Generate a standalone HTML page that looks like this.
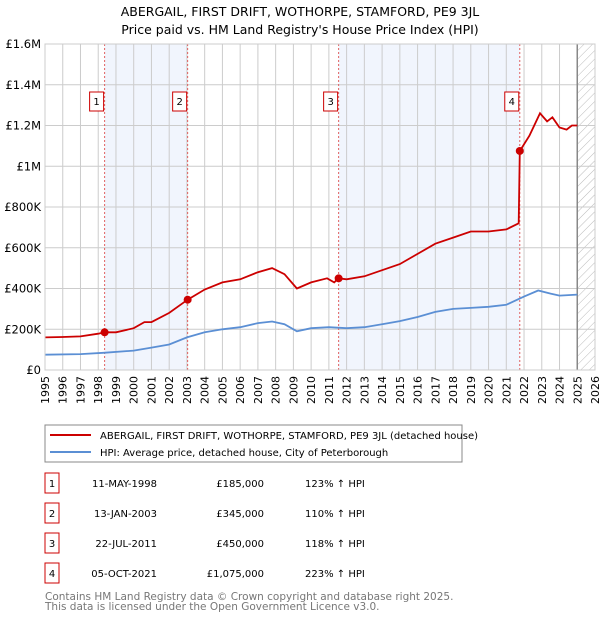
<!DOCTYPE html>
<html><head><meta charset="utf-8"><style>
body{margin:0;background:#fff;}
svg{font-family:"DejaVu Sans","Liberation Sans",sans-serif;}
</style></head><body>
<svg id="c" width="600" height="620" viewBox="0 0 600 620" xmlns="http://www.w3.org/2000/svg">
<text x="300" y="16" text-anchor="middle" font-size="12.5">ABERGAIL, FIRST DRIFT, WOTHORPE, STAMFORD, PE9 3JL</text>
<text x="300" y="34" text-anchor="middle" font-size="12.5">Price paid vs. HM Land Registry's House Price Index (HPI)</text>
<defs><pattern id="hatch" width="6" height="6" patternUnits="userSpaceOnUse" patternTransform="rotate(45)"><line x1="0" y1="0" x2="0" y2="6" stroke="#bbb" stroke-width="1"/></pattern></defs>
<g id="plot"></g>
<rect x="45" y="425" width="417" height="37" fill="#fff" stroke="#888"/>
<line x1="50" y1="435" x2="91" y2="435" stroke="#cc0000" stroke-width="2"/>
<text x="100" y="439" font-size="10">ABERGAIL, FIRST DRIFT, WOTHORPE, STAMFORD, PE9 3JL (detached house)</text>
<line x1="50" y1="452" x2="91" y2="452" stroke="#5b8fd4" stroke-width="2"/>
<text x="100" y="456" font-size="10">HPI: Average price, detached house, City of Peterborough</text>
<g id="table" font-size="10"></g>
<text x="45" y="600" font-size="10.5" fill="#777">Contains HM Land Registry data © Crown copyright and database right 2025.</text>
<text x="45" y="610" font-size="10.5" fill="#777">This data is licensed under the Open Government Licence v3.0.</text>
</svg>
<script>
const yTicks=[0,200000,400000,600000,800000,1000000,1200000,1400000,1600000];
const yLabels=["£0","£200K","£400K","£600K","£800K","£1M","£1.2M","£1.4M","£1.6M"];
const years=[1995,1996,1997,1998,1999,2000,2001,2002,2003,2004,2005,2006,2007,2008,2009,2010,2011,2012,2013,2014,2015,2016,2017,2018,2019,2020,2021,2022,2023,2024,2025,2026];
const saleDates=[1998.36,2003.04,2011.55,2021.76];
const salePrices=[185000,345000,450000,1075000];
const saleLabels=["1","2","3","4"];
const saleDateText=["11-MAY-1998","13-JAN-2003","22-JUL-2011","05-OCT-2021"];
const salePriceText=["£185,000","£345,000","£450,000","£1,075,000"];
const salePctText=["123% ↑ HPI","110% ↑ HPI","118% ↑ HPI","223% ↑ HPI"];
const redT=[1995,1996,1997,1998,1998.36,1999,2000,2000.6,2001,2002,2003.04,2004,2005,2006,2007,2007.8,2008.5,2009.2,2010,2010.9,2011.3,2011.55,2012,2013,2014,2015,2016,2017,2018,2019,2020,2021,2021.7,2021.76,2022.3,2022.9,2023.3,2023.6,2024,2024.4,2024.7,2025];
const redV=[160000,162000,165000,178000,185000,185000,205000,235000,235000,280000,345000,395000,430000,445000,480000,500000,470000,400000,430000,450000,430000,450000,445000,460000,490000,520000,570000,620000,650000,680000,680000,690000,720000,1075000,1150000,1260000,1220000,1240000,1190000,1180000,1200000,1200000];
const blueT=[1995,1997,1998.4,2000,2001,2002,2003,2004,2005,2006,2007,2007.8,2008.5,2009.2,2010,2011,2012,2013,2014,2015,2016,2017,2018,2019,2020,2021,2022,2022.8,2023.5,2024,2025];
const blueV=[75000,78000,85000,95000,110000,125000,160000,185000,200000,210000,230000,238000,225000,190000,205000,210000,205000,210000,225000,240000,260000,285000,300000,305000,310000,320000,360000,390000,375000,365000,370000];
const X0=45,X1=595,Y0=370,Y1=44;
const x=t=>X0+(t-1995)/(2026-1995)*(X1-X0);
const y=v=>Y0-v/1600000*(Y0-Y1);
const NS="http://www.w3.org/2000/svg";
const g=document.getElementById('plot');
function mk(tag,attrs,parent){const e=document.createElementNS(NS,tag);for(const k in attrs)e.setAttribute(k,attrs[k]);(parent||g).appendChild(e);return e;}
// shading
for(let i=0;i<4;i+=2){const r=mk('rect',{x:x(saleDates[i]),y:Y1,width:x(saleDates[i+1])-x(saleDates[i]),height:Y0-Y1,fill:'#eef3fc',opacity:0.8});

}
const h=mk('rect',{x:x(2025),y:Y1,width:X1-x(2025),height:Y0-Y1,fill:'url(#hatch)'});


// grid
years.forEach(yr=>{const l=mk('line',{x1:x(yr),x2:x(yr),y1:Y1,y2:Y0,stroke:'#ccc'});


const t=mk('text',{x:0,y:0,'font-size':11,'text-anchor':'end',transform:`translate(${x(yr)+4},${Y0+6}) rotate(-90)`});t.textContent=yr;

});
yTicks.forEach((v,i)=>{const l=mk('line',{x1:X0,x2:X1,y1:y(v),y2:y(v),stroke:'#ccc'});


const t=mk('text',{x:X0-4,y:y(v)+4,'font-size':11.5,'text-anchor':'end'});t.textContent=yLabels[i];

});
const vl=mk('line',{x1:x(2025),x2:x(2025),y1:Y1,y2:Y0,stroke:'#888','stroke-width':1.5});


// sale markers
saleDates.forEach((d,i)=>{const l=mk('line',{x1:x(d),x2:x(d),y1:Y1,y2:Y0,stroke:'#e06060','stroke-dasharray':'2,2'});


const b=mk('rect',{x:x(d)-15,y:92,width:14,height:19,fill:'#fff',stroke:'#cc0000'});


const t=mk('text',{x:x(d)-8,y:105,'font-size':10,'text-anchor':'middle'});t.textContent=saleLabels[i];

});
function path(T,V,col,name){const p=mk('path',{d:T.map((t,i)=>(i?'L':'M')+x(t).toFixed(1)+','+y(V[i]).toFixed(1)).join(''),fill:'none',stroke:col,'stroke-width':1.8});

}
path(blueT,blueV,'#5b8fd4','hpi-line');
path(redT,redV,'#cc0000','price-line');
saleDates.forEach((d,i)=>{const c=mk('circle',{cx:x(d),cy:y(salePrices[i]),r:4,fill:'#cc0000'});

});
const fr=mk('rect',{x:X0,y:Y1,width:X1-X0,height:Y0-Y1,fill:'none',stroke:'#ccc'});


// table
const tb=document.getElementById('table');
saleDates.forEach((d,i)=>{const cy=483+i*30;
const b=mk('rect',{x:45,y:cy-10,width:14,height:20,fill:'#fff',stroke:'#cc0000'},tb);


const cells=[[52,'middle',saleLabels[i],'table-row-number'],[157,'end',saleDateText[i],'table-date'],[264,'end',salePriceText[i],'table-price'],[305,'start',salePctText[i],'table-hpi-change']];
cells.forEach(c=>{const t=mk('text',{x:c[0],y:cy+4,'text-anchor':c[1]},tb);t.textContent=c[2];

});});
</script>
</body></html>
